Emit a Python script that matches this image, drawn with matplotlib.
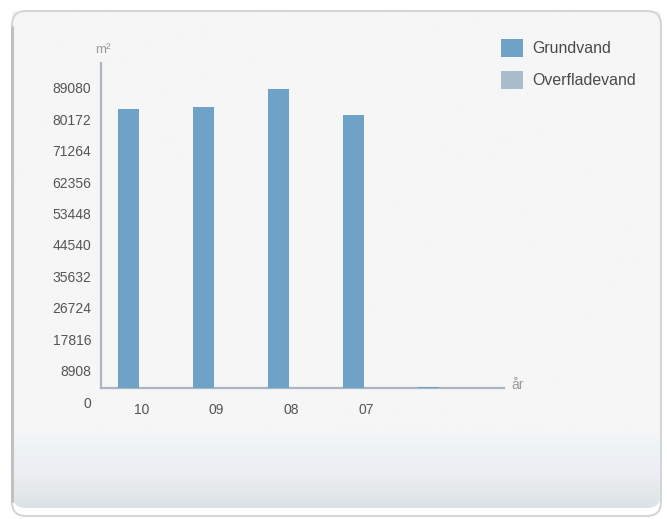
import matplotlib
matplotlib.use("Agg")
import matplotlib.pyplot as plt
import matplotlib.patches as patches
import matplotlib.transforms as mtransforms
import numpy as np

# data
years = ["10", "09", "08", "07", ""]
grundvand = [79150, 79630, 84910, 77450, 400]
overfladevand = [0, 0, 0, 0, 0]
y_ticks = [0, 8908, 17816, 26724, 35632, 44540, 53448, 62356, 71264, 80172, 89080]

plt.rcParams['font.family'] = ['Liberation Sans', 'DejaVu Sans']

W, H = 667, 519
fig = plt.figure(figsize=(W / 100, H / 100), dpi=100)
fig.patch.set_facecolor('white')

# background panel with rounded corners and bottom gradient
bg = fig.add_axes([0, 0, 1, 1], zorder=-10)
bg.set_xlim(0, W)
bg.set_ylim(H, 0)
bg.axis('off')
panel = patches.FancyBboxPatch((12, 11), 649, 505, boxstyle="round,pad=0,rounding_size=14",
                               facecolor='none', edgecolor='#d2d4d6', linewidth=1.4)
stops = [(0, '#f6f6f6'), (430, '#f6f6f6'), (447, '#eef4f6'), (472, '#eceef3'),
         (494, '#e3e8e9'), (516, '#d7dfe6')]
ys = np.arange(11, 517)
cols = np.array([[int(c[1:3], 16), int(c[3:5], 16), int(c[5:7], 16)] for _, c in stops]) / 255
pos = np.array([p for p, _ in stops])
grad = np.stack([np.interp(ys, pos, cols[:, k]) for k in range(3)], axis=-1)[:, None, :]
img = bg.imshow(grad, extent=(12, 661, 516, 11), aspect='auto', interpolation='bilinear')
img.set_clip_path(panel)
bg.add_patch(panel)
# darker left edge of the panel
bg.plot([12, 12], [26, 502], color='#bfc1c3', linewidth=2.2, solid_capstyle='butt')

# main chart
ax = fig.add_axes([101 / W, (H - 388) / H, 403 / W, 325 / H])
ax.set_facecolor('none')
x = np.arange(len(years))
bar_color = '#6ea3c7'
b1 = ax.bar(x, grundvand, width=0.28, color=bar_color, label='Grundvand', zorder=3)
b2 = ax.bar(x, overfladevand, width=0.28, color='#a9bdcd', label='Overfladevand', zorder=2)
ax.set_xlim(-0.367, 5.007)
ax.set_ylim(0, 92200)

for s in ['top', 'right']:
    ax.spines[s].set_visible(False)
for s in ['left', 'bottom']:
    ax.spines[s].set_color('#aab5c6')
    ax.spines[s].set_linewidth(1.6)
    ax.spines[s].set_zorder(2)

ax.set_yticks(y_ticks)
ax.set_yticklabels([str(v) for v in y_ticks])
ax.set_xticks(x)
ax.set_xticklabels(years)
ax.tick_params(axis='both', length=0, labelsize=10, labelcolor='#555555')
ax.tick_params(axis='y', pad=7)
ax.tick_params(axis='x', pad=11)

# labels in the reference sit offset from their tick positions
yoff = mtransforms.ScaledTranslation(0, -14 / 100, fig.dpi_scale_trans)
for lab in ax.get_yticklabels():
    lab.set_transform(lab.get_transform() + yoff)
xoff = mtransforms.ScaledTranslation(13 / 100, 0, fig.dpi_scale_trans)
for lab in ax.get_xticklabels():
    lab.set_transform(lab.get_transform() + xoff)

ax.annotate('m²', xy=(0, 1), xycoords='axes fraction', xytext=(2, 13), textcoords='offset pixels',
            ha='center', va='center', fontsize=9.6, color='#9a9a9a')
ax.annotate('år', xy=(1, 0), xycoords='axes fraction', xytext=(14, 3), textcoords='offset pixels',
            ha='center', va='center', fontsize=10, color='#9a9a9a')

leg = fig.legend(handles=[b1, b2], loc='upper left', bbox_to_anchor=(501 / W, 1 - 39 / H),
                 frameon=False, fontsize=11.4, handlelength=1.36, handleheight=1.36,
                 handletextpad=0.6, labelspacing=0.9, borderpad=0, borderaxespad=0)
for t in leg.get_texts():
    t.set_color('#4a4a4a')

fig.savefig('out.png', dpi=100)
